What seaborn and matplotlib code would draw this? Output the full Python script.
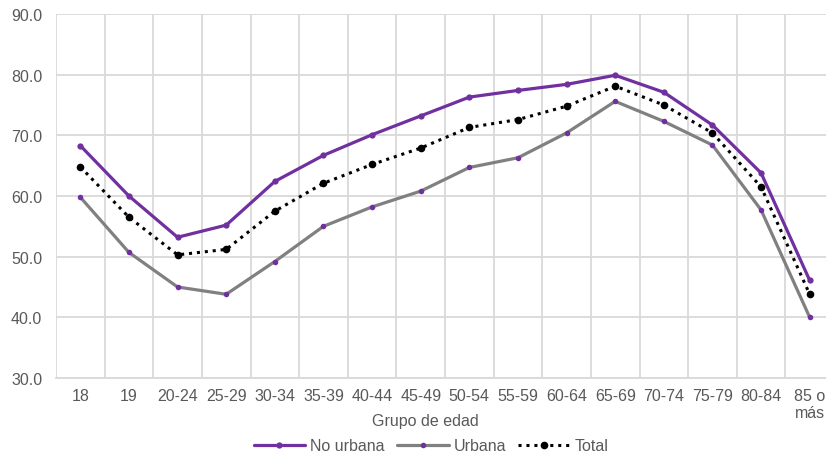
import matplotlib
matplotlib.use("Agg")
import matplotlib.pyplot as plt
import seaborn as sns
import pandas as pd
from matplotlib.lines import Line2D

grupos = ["18", "19", "20-24", "25-29", "30-34", "35-39", "40-44", "45-49",
          "50-54", "55-59", "60-64", "65-69", "70-74", "75-79", "80-84", "85 o\nmás"]
no_urbana = [68.3, 60.0, 53.2, 55.2, 62.4, 66.7, 70.1, 73.2, 76.3, 77.4, 78.4, 79.9,
             77.1, 71.7, 63.8, 46.1]
urbana = [59.8, 50.7, 45.0, 43.8, 49.2, 55.0, 58.2, 60.8, 64.7, 66.3, 70.4, 75.6,
          72.3, 68.4, 57.7, 40.0]
total = [64.8, 56.5, 50.3, 51.2, 57.5, 62.1, 65.2, 67.9, 71.3, 72.6, 74.8, 78.1,
         75.0, 70.4, 61.5, 43.8]

sns.set_theme(style="white")
plt.rcParams['font.family'] = ['Liberation Sans', 'DejaVu Sans']

fig = plt.figure(figsize=(8.26, 4.56), dpi=100)
ax = fig.add_axes([56/826, 1-379/456, (826-56)/826, (379-15)/456])

x = list(range(len(grupos)))
df = pd.DataFrame({"x": x, "No urbana": no_urbana, "Urbana": urbana, "Total": total})

purple = "#7030A0"
gray = "#808080"
txt = "#595959"
fs = 11.5

sns.lineplot(data=df, x="x", y="No urbana", ax=ax, color=purple, lw=2.3,
             marker="o", markersize=4.5, markeredgewidth=0, markerfacecolor=purple)
sns.lineplot(data=df, x="x", y="Urbana", ax=ax, color=gray, lw=2.3,
             marker="o", markersize=4.0, markeredgewidth=0, markerfacecolor=purple)
sns.lineplot(data=df, x="x", y="Total", ax=ax, color="black", lw=2.2, linestyle=(0, (1, 1.6)),
             marker="o", markersize=5.5, markeredgewidth=0, markerfacecolor="black")

ax.set_yticks([30, 40, 50, 60, 70, 80, 90])
ax.set_yticklabels([f"{v:.1f}" for v in [30, 40, 50, 60, 70, 80, 90]])
ax.set_xticks(x)
ax.set_xticklabels(grupos)
ax.set_xticks([i - 0.5 for i in range(17)], minor=True)
ax.set_ylim(30, 90)
ax.set_xlim(-0.5, 15.5 - 8/48.6)

ax.grid(False)
ax.yaxis.grid(True, color="#d9d9d9", lw=1.3)
ax.xaxis.grid(True, which="minor", color="#d9d9d9", lw=1.3)
ax.set_axisbelow(True)
for s in ["top", "right", "left"]:
    ax.spines[s].set_visible(False)
ax.spines["bottom"].set_color("#d9d9d9")
ax.spines["bottom"].set_linewidth(1.3)

ax.tick_params(axis="both", which="both", length=0, labelsize=fs, labelcolor=txt)
ax.tick_params(axis="x", pad=7)
ax.tick_params(axis="y", pad=10)
ax.set_xlabel("")
ax.set_ylabel("")
fig.text(425/826, 1-422/456, "Grupo de edad", ha="center", va="center", fontsize=fs, color=txt)

handles = [
    Line2D([], [], color=purple, lw=2.3, marker="o", markersize=4.5, markeredgewidth=0),
    Line2D([], [], color=gray, lw=2.3, marker="o", markersize=4.0, markeredgewidth=0,
           markerfacecolor=purple),
    Line2D([], [], color="black", lw=2.2, linestyle=(0, (1, 1.6)), marker="o", markersize=5.5,
           markeredgewidth=0),
]
leg = fig.legend(handles, ["No urbana", "Urbana", "Total"], loc="center",
                 bbox_to_anchor=(431/826, 1-447/456), ncol=3, frameon=False,
                 fontsize=fs, handlelength=3.25, handletextpad=0.3, columnspacing=0.75,
                 borderpad=0, borderaxespad=0)
for t in leg.get_texts():
    t.set_color(txt)

fig.savefig("out.png", dpi=100)
